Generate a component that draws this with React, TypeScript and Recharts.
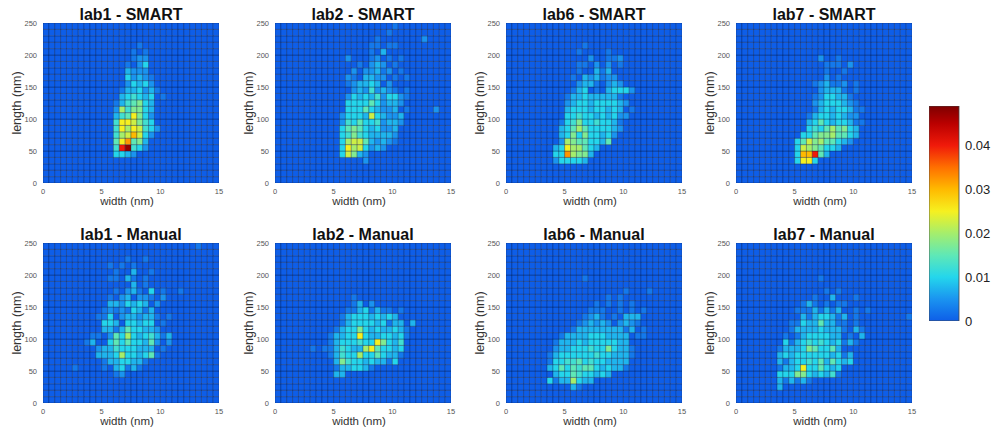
import React from 'react';
import { BarChart, Bar, Cell, XAxis, YAxis } from 'recharts';

// bin centres along width (nm), 0.5 nm bins
const widthCenters = [
  0.25, 0.75, 1.25, 1.75, 2.25, 2.75, 3.25, 3.75, 4.25, 4.75,
  5.25, 5.75, 6.25, 6.75, 7.25, 7.75, 8.25, 8.75, 9.25, 9.75,
  10.25, 10.75, 11.25, 11.75, 12.25, 12.75, 13.25, 13.75, 14.25, 14.75,
];
const lengthBinSize = 10; // nm, 25 bins from 0 to 250
const xTicks = [0, 5, 10, 15];
const yTicks = [0, 50, 100, 150, 200, 250];
const cbarTicks = [0, 0.01, 0.02, 0.03, 0.04];
const cbarMax = 0.049;
const levelStep = 0.0025; // each grid char (base 36) = n * levelStep

const titles = [
  'lab1 - SMART', 'lab2 - SMART', 'lab6 - SMART', 'lab7 - SMART',
  'lab1 - Manual', 'lab2 - Manual', 'lab6 - Manual', 'lab7 - Manual',
];

// rows go from top (240-250 nm) to bottom (0-10 nm), 30 width bins each
const Z = '0000000000 0000000000 0000000000';

const lab1Smart = [
  Z, Z, Z,
  '0000000000 0000001000 0000000000',
  '0000000000 0000010100 0000000000',
  '0000000000 0000012200 0000000000',
  '0000000000 0000102400 0000000000',
  '0000000000 0000322200 0000000000',
  '0000000000 0000423210 0000000000',
  '0000000000 0000243420 0000000000',
  '0000000000 0001334231 0000000000',
  '0000000000 0003454340 1000000000',
  '0000000000 0013567430 0000000000',
  '0000000000 0028577430 0000000000',
  '0000000000 00356a7420 0000000000',
  '0000000000 005aa97540 0000000000',
  '0000000000 005a8a9542 0000000000',
  '0000000000 00589c9420 0000000000',
  '0000000000 006ad67300 0000000000',
  '0000000000 005gj54200 0000000000',
  '0000000000 0044320000 0000000000',
  Z, Z, Z, Z,
];

const lab2Smart = [
  '0000000000 0000000000 1000000000',
  '0000000000 0000000001 0000000000',
  '0000000000 0000000100 0000020000',
  '0000000000 0000001101 1000000000',
  '0000000000 0000001030 0000000000',
  '0000000000 0020001201 0100000000',
  '0000000000 0000102320 1000000000',
  '0000000000 0002022312 0100000000',
  '0000000000 0021033220 1010000000',
  '0000000000 0012334302 0000000000',
  '0000000000 0002325232 1010000000',
  '0000000000 0024343524 4210000000',
  '0000000000 0044446423 3200000000',
  '0000000000 0044464322 3010000200',
  '0000000000 0244439432 2300000000',
  '0000000000 0254644523 3200000000',
  '0000000000 0467643422 3000000000',
  '0000000000 0457543333 2000000000',
  '0000000000 0489963232 1000000000',
  '0000000000 04a8942320 0000000000',
  '0000000000 0497320000 0000000000',
  '0000000000 0000020000 0000000000',
  Z, Z, Z,
];

const lab6Smart = [
  Z, Z, Z,
  '0000000000 0001000000 0000000000',
  '0000000000 0010000100 0000000000',
  '0000000000 0000200112 0000000000',
  '0000000000 0011020201 0000000000',
  '0000000000 0010031300 0000000000',
  '0000000000 0103231220 0000000000',
  '0000000000 0023310232 0000000000',
  '0000000000 0134010344 4200000000',
  '0000000000 1334333331 0000000000',
  '0000000000 2344344443 2000000000',
  '0000000000 3444344343 0100000000',
  '0000000000 4454434342 2000000000',
  '0000000001 4574454431 0000000000',
  '0000000003 4686444432 0000000000',
  '0000000003 4747443420 0000000000',
  '0000000002 8766443600 0000000000',
  '0000000034 a886430000 0000000000',
  '0000000044 d877300000 0000000000',
  '0000000024 4443000000 0000000000',
  Z, Z, Z,
];

const lab7Smart = [
  Z, Z, Z, Z, Z,
  '0000000000 0000200100 0000000000',
  '0000000000 0000011102 0000000000',
  '0000000000 0000010010 0000000000',
  '0000000000 0000020100 0000000000',
  '0000000000 0001231120 1000000000',
  '0000000000 0000233310 1000000000',
  '0000000000 0001244331 0000000000',
  '0000000000 0002344432 1000000000',
  '0000000000 0001343443 1100000000',
  '0000000000 0013443432 2000000000',
  '0000000000 0034643443 1100000000',
  '0000000000 0045468674 3000000000',
  '0000000000 0446778664 3000000000',
  '0000000000 4697866432 0000000000',
  '0000000000 4987644300 0000000000',
  '0000000000 4ccg630000 0000000000',
  '0000000000 4aa4000000 0000000000',
  Z, Z, Z,
];

const lab1Manual = [
  '0000000000 0000000000 0000001000',
  Z,
  '0000000000 0000100100 0000000000',
  '0000000000 0101010000 0000000000',
  '0000000000 0010030010 0000000000',
  '0000000000 0110310100 0000000000',
  '0000000000 0000030100 0000000000',
  '0000000000 0010231040 1001000000',
  '0000000000 0102302210 2000000000',
  '0000000000 0332434302 0000000000',
  '0000000000 1212143130 0000000000',
  '0000000001 1402332331 0100000000',
  '0000000000 4430443440 1000000000',
  '0000000000 3313644332 0000000000',
  '0000000011 0264843453 1300000000',
  '0000000130 0464644362 0200000000',
  '0000000002 3354443330 1000000000',
  '0000000003 3348443461 0000000000',
  '0000000000 1334433100 0000000000',
  '0000010000 1034131000 0000000000',
  '0000000000 0012000000 0000000000',
  Z, Z, Z, Z,
];

const lab2Manual = [
  Z, Z, Z, Z, Z, Z, Z, Z,
  '0000000000 0001000000 0000000000',
  '0000000000 0001302000 0000000000',
  '0000000000 0011341311 0100000000',
  '0000000000 0134443434 3000000000',
  '0000000000 0134444341 3303000000',
  '0000000000 1344743433 4310000000',
  '0000000001 3344a43344 3410000000',
  '0000000001 3444544a74 3500000000',
  '0000001011 354338a644 3400000000',
  '0000000001 3544844643 3100000000',
  '0000000000 3754434331 4000000000',
  '0000000000 1334431000 0000000000',
  '0000000000 3300000000 0000000000',
  Z, Z, Z, Z,
];

const lab6Manual = [
  Z, Z, Z, Z, Z,
  '0000000000 0001000000 0000000000',
  Z,
  '0000000000 0000000000 1000100000',
  '0000000000 0000000101 0000000000',
  '0000000000 0000010101 0100000000',
  '0000000000 0000111001 0101000000',
  '0000000000 0001231010 3330000000',
  '0000000000 0012323202 3210000000',
  '0000000000 0133333333 1301000000',
  '0000000001 3333444333 3011000000',
  '0000000013 3343444443 3000000000',
  '0000000023 3444544743 3100000000',
  '0000000134 4444454433 3100000000',
  '0000000144 5564544333 3000000000',
  '0000000346 4656643433 1000000000',
  '0000000034 4654434300 0000000000',
  '0000000413 3843300000 0000000000',
  '0000000000 0310000000 0000000000',
  Z, Z,
];

const lab7Manual = [
  Z, Z, Z, Z, Z,
  '0000000000 0000100000 0000000000',
  Z,
  '0000000000 0000010100 0000000000',
  '0000000000 0001003000 1000000000',
  '0000000000 0131010110 0000000000',
  '0000000000 1113131300 1010000000',
  '0000000000 0313443130 1000000001',
  '0000000001 1433633110 1000000000',
  '0000000001 3333433310 3100000000',
  '0000000010 1344443301 0300000000',
  '0000000041 3454543413 1000000000',
  '0000000133 3476446300 0000000000',
  '0000000343 4444443413 0000000000',
  '0000000313 4454636434 0000000000',
  '0000000133 4a44643400 0000000000',
  '0000000444 7743435100 0000000000',
  '0000000313 1310000000 0000000000',
  '0000000300 0000000000 0000000000',
  Z, Z,
];

const grids = [lab1Smart, lab2Smart, lab6Smart, lab7Smart, lab1Manual, lab2Manual, lab6Manual, lab7Manual];

// jet-like colour map, value -> rgb
const colorStops: [number, number[]][] = [
  [0, [14, 94, 232]],
  [0.005, [26, 148, 240]],
  [0.01, [36, 214, 236]],
  [0.015, [95, 232, 182]],
  [0.02, [165, 238, 108]],
  [0.025, [246, 240, 32]],
  [0.03, [255, 186, 0]],
  [0.035, [255, 112, 0]],
  [0.04, [240, 26, 10]],
  [0.045, [186, 0, 0]],
  [0.049, [126, 0, 0]],
];

function colorOf(v: number) {
  if (v <= colorStops[0][0]) return `rgb(${colorStops[0][1].join(',')})`;
  for (let i = 1; i < colorStops.length; i++) {
    const [v1, c1] = colorStops[i];
    const [v0, c0] = colorStops[i - 1];
    if (v <= v1) {
      const t = (v - v0) / (v1 - v0);
      const c = c0.map((a, k) => Math.round(a + (c1[k] - a) * t));
      return `rgb(${c.join(',')})`;
    }
  }
  return `rgb(${colorStops[colorStops.length - 1][1].join(',')})`;
}

const plotW = 176;
const plotH = 160;
const panelLefts = [43, 275, 506, 736];
const panelTops = [23, 243];
const font = '"Liberation Sans", Arial, Helvetica, sans-serif';

function Heatmap({ grid }: { grid: string[] }) {
  const rows = grid.map((r) => r.replace(/ /g, ''));
  const nRows = rows.length;
  const data = widthCenters.map((w) => {
    const d: any = { w };
    for (let b = 0; b < nRows; b++) d['b' + b] = lengthBinSize;
    return d;
  });
  const tick = { fontSize: 7.5, fill: '#555' };
  return (
    <BarChart width={plotW + 47} height={plotH + 35} data={data}
      margin={{ top: 5, right: 5, left: 0, bottom: 0 }} barCategoryGap={0} barGap={0}>
      <XAxis dataKey="w" type="number" domain={[0, 15]} ticks={xTicks} allowDataOverflow
        interval={0} tickLine={false} axisLine={false} tickSize={2} tickMargin={4} height={30} tick={tick} />
      <YAxis type="number" domain={[0, 250]} ticks={yTicks} allowDataOverflow
        interval={0} tickLine={false} axisLine={false} tickSize={2} tickMargin={4} width={42} tick={tick} />
      {rows.map((_, b) => {
        const row = rows[nRows - 1 - b];
        return (
          <Bar key={b} dataKey={'b' + b} stackId="s" isAnimationActive={false}
            stroke="#0a1a40" strokeWidth={0.6} strokeOpacity={0.55}>
            {widthCenters.map((_, c) => (
              <Cell key={c} fill={colorOf(parseInt(row[c], 36) * levelStep)} />
            ))}
          </Bar>
        );
      })}
    </BarChart>
  );
}

function Colorbar() {
  const data = [{ k: 'c', v: cbarMax }];
  return (
    <BarChart width={75} height={240} data={data}
      margin={{ top: 5, right: 0, left: 0, bottom: 20 }} barCategoryGap={0}>
      <defs>
        <linearGradient id="cbarGrad" x1="0" y1="1" x2="0" y2="0">
          {colorStops.map(([v, c]) => (
            <stop key={v} offset={v / cbarMax} stopColor={`rgb(${c.join(',')})`} />
          ))}
        </linearGradient>
      </defs>
      <XAxis dataKey="k" hide />
      <YAxis orientation="right" type="number" domain={[0, cbarMax]} ticks={cbarTicks} allowDataOverflow
        interval={0} tickLine={false} axisLine={false} tickSize={2} tickMargin={4} width={45}
        tick={{ fontSize: 13, fill: '#222' }} tickFormatter={(v: number) => (v === 0 ? '0' : v.toFixed(2))} />
      <Bar dataKey="v" fill="url(#cbarGrad)" stroke="#444" strokeWidth={0.8} isAnimationActive={false} />
    </BarChart>
  );
}

export default function App() {
  return (
    <div style={{ position: 'absolute', left: 0, top: 0, width: 995, height: 437, background: '#fff', fontFamily: font, overflow: 'hidden' }}>
      {grids.map((g, i) => {
        const left = panelLefts[i % 4];
        const top = panelTops[Math.floor(i / 4)];
        return (
          <React.Fragment key={i}>
            <div style={{ position: 'absolute', left: left - 42, top: top - 5 }}>
              <Heatmap grid={g} />
            </div>
            <div style={{ position: 'absolute', left: left + plotW / 2, top: top - 8, transform: 'translate(-50%, -50%)', fontWeight: 'bold', fontSize: 16, color: '#111', whiteSpace: 'nowrap' }}>
              {titles[i]}
            </div>
            <div style={{ position: 'absolute', left: left + 84, top: top + plotH + 18, transform: 'translate(-50%, -50%)', fontSize: 11.5, color: '#333', whiteSpace: 'nowrap' }}>
              width (nm)
            </div>
            <div style={{ position: 'absolute', left: left - 26, top: top + plotH / 2, transform: 'translate(-50%, -50%) rotate(-90deg)', fontSize: 12.5, color: '#333', whiteSpace: 'nowrap' }}>
              length (nm)
            </div>
          </React.Fragment>
        );
      })}
      <div style={{ position: 'absolute', left: 929, top: 101 }}>
        <Colorbar />
      </div>
    </div>
  );
}
